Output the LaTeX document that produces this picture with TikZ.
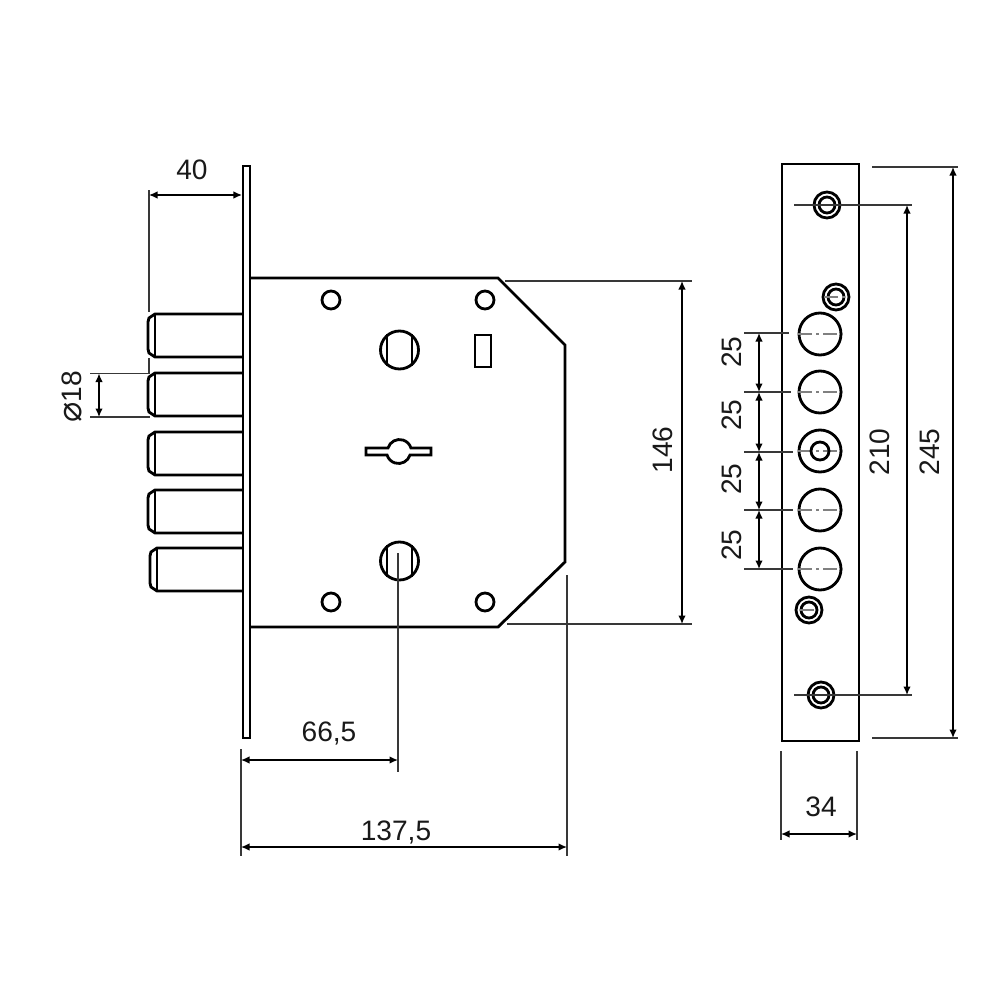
\documentclass[tikz,border=0pt]{standalone}
\usepackage{fontspec}
\setmainfont{Liberation Sans}
\newfontfamily\symbolfont[Scale=1.2]{DejaVu Sans}
\usetikzlibrary{arrows.meta}
\definecolor{dimgray}{gray}{0.22}
\tikzset{
  outline/.style={line width=0.8pt,color=black},
  dimline/.style={line width=0.4pt,color=dimgray},
  dimarrow/.style={line width=0.4pt,color=black,{Latex[length=0.85mm,width=0.75mm]}-{Latex[length=0.85mm,width=0.75mm]}},
  axisline/.style={line width=0.35pt,color=gray,dash pattern=on 4pt off 1.2pt on 0.8pt off 1.2pt},
  dimlabel/.style={font=\fontsize{8}{9}\selectfont,inner sep=0pt,color=black!90}
}
\begin{document}
\begin{tikzpicture}[x=0.01cm,y=-0.01cm]
\useasboundingbox (0,0) rectangle (1000,1000);

% Face plate and case of the side view.
\draw[outline] (243,166) rectangle (250,738);
\draw[outline] (250,278) -- (498,278) -- (565,345) -- (565,562) -- (498,627) -- (250,627);

% Five bolts.
\foreach \ytop/\xleft in {314/148,373/148,432/148,490/148,548/150} {
  \draw[outline] (243,\ytop) -- ({\xleft+7},\ytop) -- ({\xleft+1},\ytop+4) -- (\xleft,\ytop+8)
     -- (\xleft,\ytop+35) -- ({\xleft+1},\ytop+39) -- ({\xleft+7},\ytop+43) -- (243,\ytop+43);
  \draw[line width=0.45pt] ({\xleft+7},\ytop) -- ({\xleft+7},\ytop+43);
}

% Small fixing holes in the case.
\foreach \xa/\ya in {331/300,485/300,331/602,485/602} {
  \draw[outline] (\xa,\ya) circle (9);
}

% Cylinder holes with flats.
\foreach \ya in {350,561} {
  \draw[outline] (399.5,\ya) circle (19);
  \draw[outline] (387,\ya-16) -- (387,\ya+16);
  \draw[outline] (412,\ya-16) -- (412,\ya+16);
}
\draw[outline] (475,335) rectangle (491,367);

% Keyhole.
\draw[outline] (366,448) -- (388,448) arc[start angle=197,end angle=343,radius=12]
  -- (431,448) -- (431,455) -- (410,455) arc[start angle=17,end angle=163,radius=12]
  -- (366,455) -- cycle;

% Front plate.
\draw[outline] (782,164) rectangle (859,741);
\foreach \xa/\ya in {827/205,836/297,809/610,821/695} {
  \draw[outline] (\xa,\ya) circle (13);
  \draw[outline] (\xa,\ya) circle (8);
}
\foreach \ya in {334,392,451,510,569} {
  \draw[outline] (820,\ya) circle (21);
  \draw[axisline] (798,\ya) -- (842,\ya);
}
\draw[outline] (820,451) circle (9);
\draw[axisline] (824,297) -- (848,297);
\draw[axisline] (800,610) -- (818,610);

% Named ends of the dimensions.
\coordinate (boltEnd) at (149,195);
\coordinate (plateMark) at (242,195);
\coordinate (boltLow) at (149,312);
\coordinate (gapTop) at (149,358);
\coordinate (gapLow) at (149,373);
\coordinate (faceTop) at (241,749);
\coordinate (faceLow) at (241,856);
\coordinate (cylTop) at (398,553);
\coordinate (cylLow) at (398,772);
\coordinate (caseRight) at (567,575);
\coordinate (caseLow) at (567,856);

% Dimensions of the side view.
\draw[dimline] (boltEnd) ++(0,-5) -- (boltLow);
\draw[dimline] (gapTop) -- (gapLow);
\draw[dimarrow] (boltEnd) -- (plateMark);
\node[dimlabel] (dimForty) at (192,170) {40};
\draw[dimline] (90,373.5) -- (150,373.5);
\draw[dimline] (90,417) -- (150,417);
\draw[dimarrow] (99,373.5) -- (99,417);
\node[dimlabel,rotate=90] (dimBolt) at (72,397) {{\symbolfont ⌀}18};
\draw[dimline] (faceTop) -- (faceLow);
\draw[dimline] (cylTop) -- (cylLow);
\draw[dimline] (caseRight) -- (caseLow);
\draw[dimarrow] (241,760) -- (398,760);
\draw[dimarrow] (241,847) -- (567,847);
\node[dimlabel] (dimCyl) at (329,733) {66,5};
\node[dimlabel] (dimCase) at (396,832) {137,5};
\draw[dimline] (505,281) -- (692,281);
\draw[dimline] (507,624) -- (692,624);
\draw[dimarrow] (682,281) -- (682,624);
\node[dimlabel,rotate=90] (dimHeight) at (663,450) {146};

% Dimensions of the front plate.
\foreach \ya/\xb in {333/789,392/791,452/793,510/793,569/793} {
  \draw[dimline] (744,\ya) -- (\xb,\ya);
}
\foreach \ya/\yb/\yc in {333/392/352,392/452/415,452/510/479,510/569/545} {
  \draw[dimarrow] (759,\ya) -- (759,\yb);
  \node[dimlabel,rotate=90] (dimStep\yc) at (732,\yc) {25};
}
\draw[dimline] (794,205) -- (912,205);
\draw[dimline] (794,695) -- (912,695);
\draw[dimarrow] (907,205) -- (907,695);
\node[dimlabel,rotate=90] (dimScrew) at (880,452) {210};
\draw[dimline] (872,167) -- (958,167);
\draw[dimline] (872,738) -- (958,738);
\draw[dimarrow] (953,167) -- (953,738);
\node[dimlabel,rotate=90] (dimPlate) at (930,452) {245};
\draw[dimline] (781,751) -- (781,840);
\draw[dimline] (857,751) -- (857,840);
\draw[dimarrow] (781,834) -- (857,834);
\node[dimlabel] (dimWidth) at (821,807) {34};
\end{tikzpicture}
\end{document}
